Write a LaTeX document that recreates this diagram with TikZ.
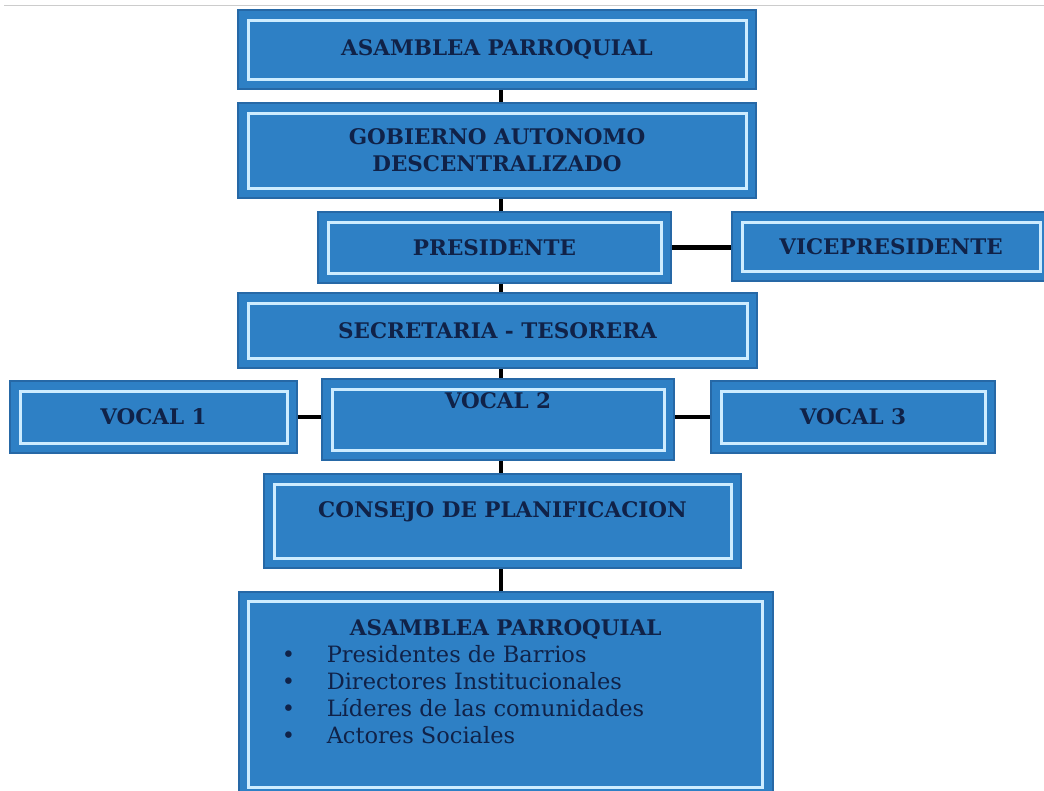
\documentclass[tikz,border=0pt]{standalone}
\usepackage{fontspec}
\setmainfont{DejaVu Serif}
\usepackage{xcolor}
\usepackage{tikz}

\definecolor{boxblue}{RGB}{46,128,197}
\definecolor{boxedge}{RGB}{38,104,166}
\definecolor{rimblue}{RGB}{205,236,255}
\definecolor{navy}{RGB}{16,34,72}

\begin{document}
\begin{tikzpicture}[x=1pt,y=-1pt,
  box/.style={rectangle, fill=boxblue, draw=boxedge, line width=1.5pt, inner sep=0pt,
    text=navy, align=center, font=\fontsize{21.5}{27}\selectfont\bfseries,
    path picture={\draw[rimblue, line width=3pt]
      ([shift={(10pt,10pt)}]path picture bounding box.south west) rectangle
      ([shift={(-10pt,-10pt)}]path picture bounding box.north east);}},
  conn/.style={line width=4.5pt, black}]
  \clip (0,0) rectangle (1044,790);
  \fill[white] (0,0) rectangle (1044,790);
  \draw[black!20, line width=1pt] (4,5) -- (1044,5);

  \node[box, minimum width=518pt, minimum height=79pt] (asam) at (497,49.5) {ASAMBLEA PARROQUIAL};
  \node[box, minimum width=518pt, minimum height=95pt] (gob) at (497,150.5) {GOBIERNO AUTONOMO\\DESCENTRALIZADO};
  \node[box, minimum width=353pt, minimum height=71pt] (pres) at (494.5,247.5) {PRESIDENTE};
  \node[box, minimum width=318pt, minimum height=69pt] (vice) at (891,246.5) {VICEPRESIDENTE};
  \node[box, minimum width=519pt, minimum height=75pt] (secr) at (497.5,330.5) {SECRETARIA - TESORERA};
  \node[box, minimum width=287pt, minimum height=72pt] (voc1) at (153.5,417) {VOCAL 1};
  \node[box, minimum width=352pt, minimum height=81pt, text depth=38pt] (voc2) at (498,419.5) {VOCAL 2};
  \node[box, minimum width=284pt, minimum height=72pt] (voc3) at (853,417) {VOCAL 3};
  \node[box, minimum width=477pt, minimum height=94pt, text depth=22pt] (cons) at (502.5,521) {CONSEJO DE PLANIFICACION};
  \node[box, anchor=north west, align=left, font=\fontsize{22.5}{27}\selectfont] (base) at (238,591)
    {\parbox[t][206pt][t]{534pt}{\vspace*{28pt}%
      {\centering\fontsize{21.5}{27}\selectfont\bfseries ASAMBLEA PARROQUIAL\par}
      \raggedright
      \hspace*{43pt}\makebox[45pt][l]{\textbullet}Presidentes de Barrios\par
      \hspace*{43pt}\makebox[45pt][l]{\textbullet}Directores Institucionales\par
      \hspace*{43pt}\makebox[45pt][l]{\textbullet}Líderes de las comunidades\par
      \hspace*{43pt}\makebox[45pt][l]{\textbullet}Actores Sociales\par}};

  % the vertical line
  \coordinate (spine) at (501,0);
  \draw[conn] (asam.south -| spine) -- (gob.north -| spine);
  \draw[conn] (gob.south -| spine) -- (pres.north -| spine);
  \draw[conn] (pres.south -| spine) -- (secr.north -| spine);
  \draw[conn] (secr.south -| spine) -- (voc2.north -| spine);
  \draw[conn] (voc2.south -| spine) -- (cons.north -| spine);
  \draw[conn] (cons.south -| spine) -- (base.north -| spine);

  % side links
  \draw[conn] (pres.east) -- (pres.east -| vice.west);
  \draw[conn] (voc1.east) -- (voc1.east -| voc2.west);
  \draw[conn] (voc3.west -| voc2.east) -- (voc3.west);
\end{tikzpicture}
\end{document}
